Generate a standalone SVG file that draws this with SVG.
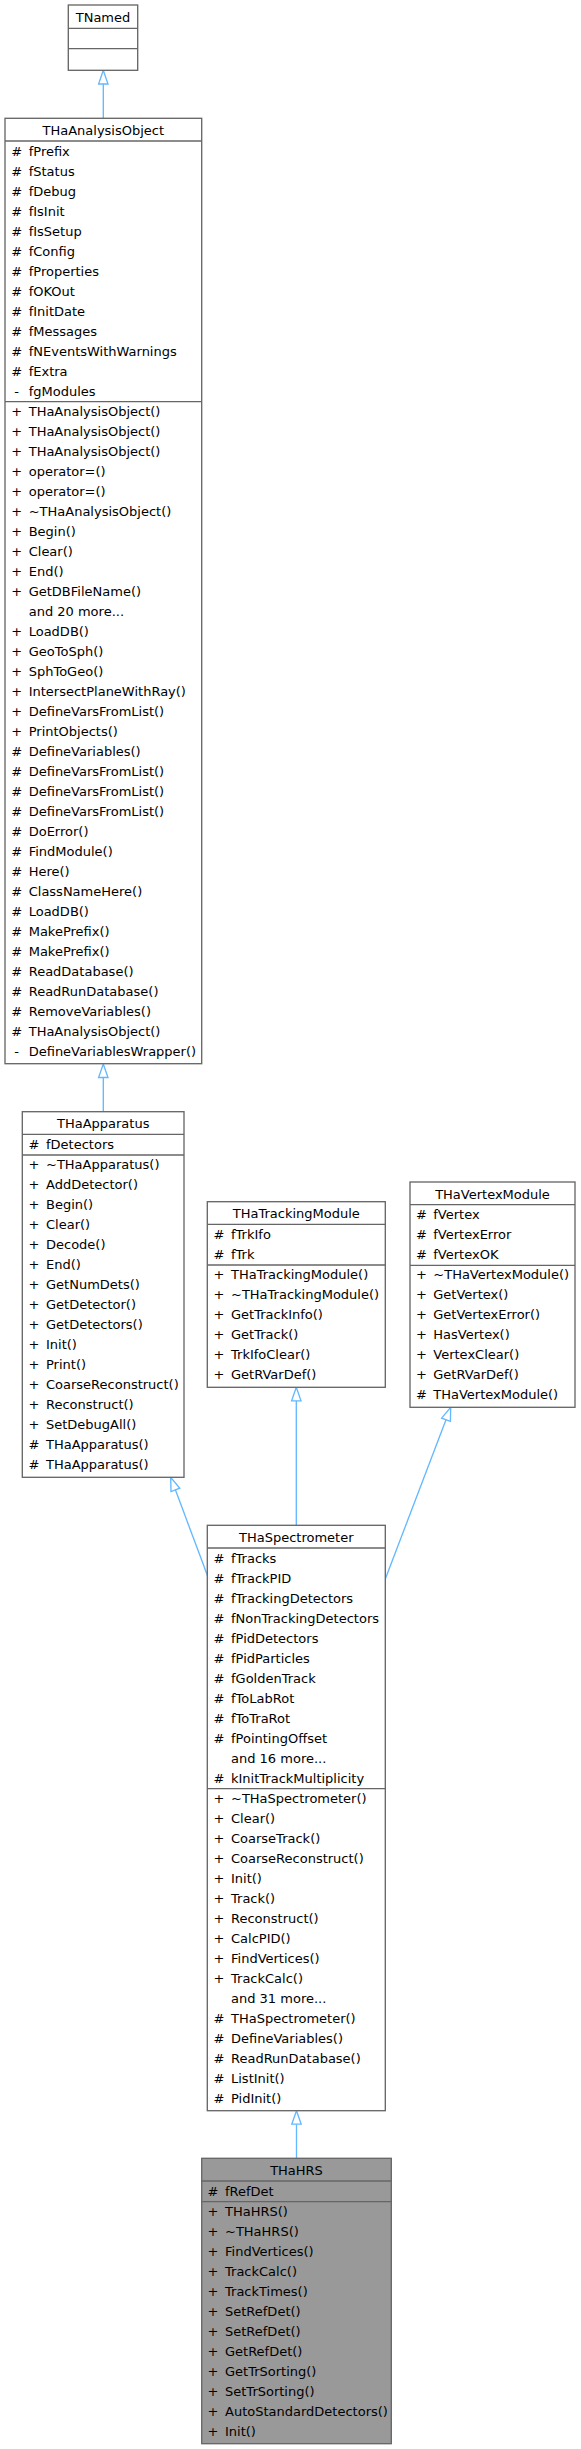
<svg xmlns="http://www.w3.org/2000/svg" width="581" height="2449" viewBox="0 0 581 2449">
<style>
.box{fill:#ffffff;stroke:#666666;stroke-width:1.33}
.cur{fill:#999999}
.sep{stroke:#666666;stroke-width:1.33;fill:none}
text{font-family:"DejaVu Sans","Liberation Sans",sans-serif;font-size:13px;fill:#000000}
.c{text-anchor:middle}
.edge{stroke:#63b8ff;stroke-width:1.33;fill:none}
.head{fill:#ffffff;stroke:#63b8ff;stroke-width:1.33}
</style>
<rect width="581" height="2449" fill="#ffffff"/>
<g id="connectors">
<line class="edge" x1="103.3" y1="118.3" x2="103.3" y2="84"/>
<polygon class="head" points="103.3,70.3 98.6,84 108,84"/>
<line class="edge" x1="103.3" y1="1111.7" x2="103.3" y2="1077.5"/>
<polygon class="head" points="103.3,1064 98.6,1077.5 108,1077.5"/>
<line class="edge" x1="208" y1="1577" x2="175.4" y2="1489.8"/>
<polygon class="head" points="170.7,1477.3 171,1491.5 179.8,1488.2"/>
<line class="edge" x1="296.3" y1="1525.3" x2="296.3" y2="1400.8"/>
<polygon class="head" points="296.3,1387.3 291.6,1400.8 301,1400.8"/>
<line class="edge" x1="385.3" y1="1579" x2="446" y2="1419.8"/>
<polygon class="head" points="450.7,1407.3 450.4,1421.4 441.6,1418.1"/>
<line class="edge" x1="296.5" y1="2158.3" x2="296.5" y2="2124.2"/>
<polygon class="head" points="296.5,2110.7 291.8,2124.2 301.2,2124.2"/>
</g>
<g id="TNamed">
<rect class="box" x="68.3" y="5" width="69.4" height="65.3"/>
<line class="sep" x1="68.3" y1="28.3" x2="137.7" y2="28.3"/>
<line class="sep" x1="68.3" y1="48.7" x2="137.7" y2="48.7"/>
<text class="c" x="103" y="21.5">TNamed</text>
</g>
<g id="THaAnalysisObject">
<rect class="box" x="5" y="118.3" width="196.7" height="945.4"/>
<line class="sep" x1="5" y1="141" x2="201.7" y2="141"/>
<line class="sep" x1="5" y1="401.7" x2="201.7" y2="401.7"/>
<text class="c" x="103.3" y="134.8">THaAnalysisObject</text>
<g>
<text class="c" x="16.7" y="155.5">#</text><text x="28.7" y="155.5">fPrefix</text>
<text class="c" x="16.7" y="175.5">#</text><text x="28.7" y="175.5">fStatus</text>
<text class="c" x="16.7" y="195.5">#</text><text x="28.7" y="195.5">fDebug</text>
<text class="c" x="16.7" y="215.5">#</text><text x="28.7" y="215.5">fIsInit</text>
<text class="c" x="16.7" y="235.5">#</text><text x="28.7" y="235.5">fIsSetup</text>
<text class="c" x="16.7" y="255.5">#</text><text x="28.7" y="255.5">fConfig</text>
<text class="c" x="16.7" y="275.5">#</text><text x="28.7" y="275.5">fProperties</text>
<text class="c" x="16.7" y="295.5">#</text><text x="28.7" y="295.5">fOKOut</text>
<text class="c" x="16.7" y="315.5">#</text><text x="28.7" y="315.5">fInitDate</text>
<text class="c" x="16.7" y="335.5">#</text><text x="28.7" y="335.5">fMessages</text>
<text class="c" x="16.7" y="355.5">#</text><text x="28.7" y="355.5">fNEventsWithWarnings</text>
<text class="c" x="16.7" y="375.5">#</text><text x="28.7" y="375.5">fExtra</text>
<text class="c" x="16.7" y="395.5">-</text><text x="28.7" y="395.5">fgModules</text>
</g>
<g>
<text class="c" x="16.7" y="415.7">+</text><text x="28.7" y="415.7">THaAnalysisObject()</text>
<text class="c" x="16.7" y="435.7">+</text><text x="28.7" y="435.7">THaAnalysisObject()</text>
<text class="c" x="16.7" y="455.7">+</text><text x="28.7" y="455.7">THaAnalysisObject()</text>
<text class="c" x="16.7" y="475.7">+</text><text x="28.7" y="475.7">operator=()</text>
<text class="c" x="16.7" y="495.7">+</text><text x="28.7" y="495.7">operator=()</text>
<text class="c" x="16.7" y="515.7">+</text><text x="28.7" y="515.7">~THaAnalysisObject()</text>
<text class="c" x="16.7" y="535.7">+</text><text x="28.7" y="535.7">Begin()</text>
<text class="c" x="16.7" y="555.7">+</text><text x="28.7" y="555.7">Clear()</text>
<text class="c" x="16.7" y="575.7">+</text><text x="28.7" y="575.7">End()</text>
<text class="c" x="16.7" y="595.7">+</text><text x="28.7" y="595.7">GetDBFileName()</text>
<text x="28.7" y="615.7">and 20 more...</text>
<text class="c" x="16.7" y="635.7">+</text><text x="28.7" y="635.7">LoadDB()</text>
<text class="c" x="16.7" y="655.7">+</text><text x="28.7" y="655.7">GeoToSph()</text>
<text class="c" x="16.7" y="675.7">+</text><text x="28.7" y="675.7">SphToGeo()</text>
<text class="c" x="16.7" y="695.7">+</text><text x="28.7" y="695.7">IntersectPlaneWithRay()</text>
<text class="c" x="16.7" y="715.7">+</text><text x="28.7" y="715.7">DefineVarsFromList()</text>
<text class="c" x="16.7" y="735.7">+</text><text x="28.7" y="735.7">PrintObjects()</text>
<text class="c" x="16.7" y="755.7">#</text><text x="28.7" y="755.7">DefineVariables()</text>
<text class="c" x="16.7" y="775.7">#</text><text x="28.7" y="775.7">DefineVarsFromList()</text>
<text class="c" x="16.7" y="795.7">#</text><text x="28.7" y="795.7">DefineVarsFromList()</text>
<text class="c" x="16.7" y="815.7">#</text><text x="28.7" y="815.7">DefineVarsFromList()</text>
<text class="c" x="16.7" y="835.7">#</text><text x="28.7" y="835.7">DoError()</text>
<text class="c" x="16.7" y="855.7">#</text><text x="28.7" y="855.7">FindModule()</text>
<text class="c" x="16.7" y="875.7">#</text><text x="28.7" y="875.7">Here()</text>
<text class="c" x="16.7" y="895.7">#</text><text x="28.7" y="895.7">ClassNameHere()</text>
<text class="c" x="16.7" y="915.7">#</text><text x="28.7" y="915.7">LoadDB()</text>
<text class="c" x="16.7" y="935.7">#</text><text x="28.7" y="935.7">MakePrefix()</text>
<text class="c" x="16.7" y="955.7">#</text><text x="28.7" y="955.7">MakePrefix()</text>
<text class="c" x="16.7" y="975.7">#</text><text x="28.7" y="975.7">ReadDatabase()</text>
<text class="c" x="16.7" y="995.7">#</text><text x="28.7" y="995.7">ReadRunDatabase()</text>
<text class="c" x="16.7" y="1015.7">#</text><text x="28.7" y="1015.7">RemoveVariables()</text>
<text class="c" x="16.7" y="1035.7">#</text><text x="28.7" y="1035.7">THaAnalysisObject()</text>
<text class="c" x="16.7" y="1055.7">-</text><text x="28.7" y="1055.7">DefineVariablesWrapper()</text>
</g>
</g>
<g id="THaApparatus">
<rect class="box" x="22.3" y="1111.7" width="161.7" height="365.6"/>
<line class="sep" x1="22.3" y1="1134.4" x2="184" y2="1134.4"/>
<line class="sep" x1="22.3" y1="1155" x2="184" y2="1155"/>
<text class="c" x="103.2" y="1128.2">THaApparatus</text>
<text class="c" x="34" y="1148.9">#</text><text x="46" y="1148.9">fDetectors</text>
<text class="c" x="34" y="1169">+</text><text x="46" y="1169">~THaApparatus()</text>
<text class="c" x="34" y="1189">+</text><text x="46" y="1189">AddDetector()</text>
<text class="c" x="34" y="1209">+</text><text x="46" y="1209">Begin()</text>
<text class="c" x="34" y="1229">+</text><text x="46" y="1229">Clear()</text>
<text class="c" x="34" y="1249">+</text><text x="46" y="1249">Decode()</text>
<text class="c" x="34" y="1269">+</text><text x="46" y="1269">End()</text>
<text class="c" x="34" y="1289">+</text><text x="46" y="1289">GetNumDets()</text>
<text class="c" x="34" y="1309">+</text><text x="46" y="1309">GetDetector()</text>
<text class="c" x="34" y="1329">+</text><text x="46" y="1329">GetDetectors()</text>
<text class="c" x="34" y="1349">+</text><text x="46" y="1349">Init()</text>
<text class="c" x="34" y="1369">+</text><text x="46" y="1369">Print()</text>
<text class="c" x="34" y="1389">+</text><text x="46" y="1389">CoarseReconstruct()</text>
<text class="c" x="34" y="1409">+</text><text x="46" y="1409">Reconstruct()</text>
<text class="c" x="34" y="1429">+</text><text x="46" y="1429">SetDebugAll()</text>
<text class="c" x="34" y="1449">#</text><text x="46" y="1449">THaApparatus()</text>
<text class="c" x="34" y="1469">#</text><text x="46" y="1469">THaApparatus()</text>
</g>
<g id="THaTrackingModule">
<rect class="box" x="207.3" y="1201.7" width="178" height="185.6"/>
<line class="sep" x1="207.3" y1="1224.4" x2="385.3" y2="1224.4"/>
<line class="sep" x1="207.3" y1="1265" x2="385.3" y2="1265"/>
<text class="c" x="296.3" y="1218.2">THaTrackingModule</text>
<text class="c" x="219" y="1238.9">#</text><text x="231" y="1238.9">fTrkIfo</text>
<text class="c" x="219" y="1258.9">#</text><text x="231" y="1258.9">fTrk</text>
<text class="c" x="219" y="1279">+</text><text x="231" y="1279">THaTrackingModule()</text>
<text class="c" x="219" y="1299">+</text><text x="231" y="1299">~THaTrackingModule()</text>
<text class="c" x="219" y="1319">+</text><text x="231" y="1319">GetTrackInfo()</text>
<text class="c" x="219" y="1339">+</text><text x="231" y="1339">GetTrack()</text>
<text class="c" x="219" y="1359">+</text><text x="231" y="1359">TrkIfoClear()</text>
<text class="c" x="219" y="1379">+</text><text x="231" y="1379">GetRVarDef()</text>
</g>
<g id="THaVertexModule">
<rect class="box" x="410" y="1182" width="165" height="225.3"/>
<line class="sep" x1="410" y1="1204.7" x2="575" y2="1204.7"/>
<line class="sep" x1="410" y1="1265.3" x2="575" y2="1265.3"/>
<text class="c" x="492.5" y="1198.5">THaVertexModule</text>
<text class="c" x="421.5" y="1219.2">#</text><text x="433.3" y="1219.2">fVertex</text>
<text class="c" x="421.5" y="1239.2">#</text><text x="433.3" y="1239.2">fVertexError</text>
<text class="c" x="421.5" y="1259.2">#</text><text x="433.3" y="1259.2">fVertexOK</text>
<text class="c" x="421.5" y="1279.3">+</text><text x="433.3" y="1279.3">~THaVertexModule()</text>
<text class="c" x="421.5" y="1299.3">+</text><text x="433.3" y="1299.3">GetVertex()</text>
<text class="c" x="421.5" y="1319.3">+</text><text x="433.3" y="1319.3">GetVertexError()</text>
<text class="c" x="421.5" y="1339.3">+</text><text x="433.3" y="1339.3">HasVertex()</text>
<text class="c" x="421.5" y="1359.3">+</text><text x="433.3" y="1359.3">VertexClear()</text>
<text class="c" x="421.5" y="1379.3">+</text><text x="433.3" y="1379.3">GetRVarDef()</text>
<text class="c" x="421.5" y="1399.3">#</text><text x="433.3" y="1399.3">THaVertexModule()</text>
</g>
<g id="THaSpectrometer">
<rect class="box" x="207.3" y="1525.3" width="178" height="585.4"/>
<line class="sep" x1="207.3" y1="1548" x2="385.3" y2="1548"/>
<line class="sep" x1="207.3" y1="1788.7" x2="385.3" y2="1788.7"/>
<text class="c" x="296.3" y="1541.8">THaSpectrometer</text>
<text class="c" x="219" y="1562.5">#</text><text x="231" y="1562.5">fTracks</text>
<text class="c" x="219" y="1582.5">#</text><text x="231" y="1582.5">fTrackPID</text>
<text class="c" x="219" y="1602.5">#</text><text x="231" y="1602.5">fTrackingDetectors</text>
<text class="c" x="219" y="1622.5">#</text><text x="231" y="1622.5">fNonTrackingDetectors</text>
<text class="c" x="219" y="1642.5">#</text><text x="231" y="1642.5">fPidDetectors</text>
<text class="c" x="219" y="1662.5">#</text><text x="231" y="1662.5">fPidParticles</text>
<text class="c" x="219" y="1682.5">#</text><text x="231" y="1682.5">fGoldenTrack</text>
<text class="c" x="219" y="1702.5">#</text><text x="231" y="1702.5">fToLabRot</text>
<text class="c" x="219" y="1722.5">#</text><text x="231" y="1722.5">fToTraRot</text>
<text class="c" x="219" y="1742.5">#</text><text x="231" y="1742.5">fPointingOffset</text>
<text x="231" y="1762.5">and 16 more...</text>
<text class="c" x="219" y="1782.5">#</text><text x="231" y="1782.5">kInitTrackMultiplicity</text>
<text class="c" x="219" y="1802.7">+</text><text x="231" y="1802.7">~THaSpectrometer()</text>
<text class="c" x="219" y="1822.7">+</text><text x="231" y="1822.7">Clear()</text>
<text class="c" x="219" y="1842.7">+</text><text x="231" y="1842.7">CoarseTrack()</text>
<text class="c" x="219" y="1862.7">+</text><text x="231" y="1862.7">CoarseReconstruct()</text>
<text class="c" x="219" y="1882.7">+</text><text x="231" y="1882.7">Init()</text>
<text class="c" x="219" y="1902.7">+</text><text x="231" y="1902.7">Track()</text>
<text class="c" x="219" y="1922.7">+</text><text x="231" y="1922.7">Reconstruct()</text>
<text class="c" x="219" y="1942.7">+</text><text x="231" y="1942.7">CalcPID()</text>
<text class="c" x="219" y="1962.7">+</text><text x="231" y="1962.7">FindVertices()</text>
<text class="c" x="219" y="1982.7">+</text><text x="231" y="1982.7">TrackCalc()</text>
<text x="231" y="2002.7">and 31 more...</text>
<text class="c" x="219" y="2022.7">#</text><text x="231" y="2022.7">THaSpectrometer()</text>
<text class="c" x="219" y="2042.7">#</text><text x="231" y="2042.7">DefineVariables()</text>
<text class="c" x="219" y="2062.7">#</text><text x="231" y="2062.7">ReadRunDatabase()</text>
<text class="c" x="219" y="2082.7">#</text><text x="231" y="2082.7">ListInit()</text>
<text class="c" x="219" y="2102.7">#</text><text x="231" y="2102.7">PidInit()</text>
</g>
<g id="THaHRS">
<rect class="box cur" x="201.7" y="2158.3" width="189.6" height="285.4"/>
<line class="sep" x1="201.7" y1="2181" x2="391.3" y2="2181"/>
<line class="sep" x1="201.7" y1="2201.7" x2="391.3" y2="2201.7"/>
<text class="c" x="296.5" y="2174.8">THaHRS</text>
<text class="c" x="213" y="2195.5">#</text><text x="225" y="2195.5">fRefDet</text>
<text class="c" x="213" y="2215.7">+</text><text x="225" y="2215.7">THaHRS()</text>
<text class="c" x="213" y="2235.7">+</text><text x="225" y="2235.7">~THaHRS()</text>
<text class="c" x="213" y="2255.7">+</text><text x="225" y="2255.7">FindVertices()</text>
<text class="c" x="213" y="2275.7">+</text><text x="225" y="2275.7">TrackCalc()</text>
<text class="c" x="213" y="2295.7">+</text><text x="225" y="2295.7">TrackTimes()</text>
<text class="c" x="213" y="2315.7">+</text><text x="225" y="2315.7">SetRefDet()</text>
<text class="c" x="213" y="2335.7">+</text><text x="225" y="2335.7">SetRefDet()</text>
<text class="c" x="213" y="2355.7">+</text><text x="225" y="2355.7">GetRefDet()</text>
<text class="c" x="213" y="2375.7">+</text><text x="225" y="2375.7">GetTrSorting()</text>
<text class="c" x="213" y="2395.7">+</text><text x="225" y="2395.7">SetTrSorting()</text>
<text class="c" x="213" y="2415.7">+</text><text x="225" y="2415.7">AutoStandardDetectors()</text>
<text class="c" x="213" y="2435.7">+</text><text x="225" y="2435.7">Init()</text>
</g>
</svg>
